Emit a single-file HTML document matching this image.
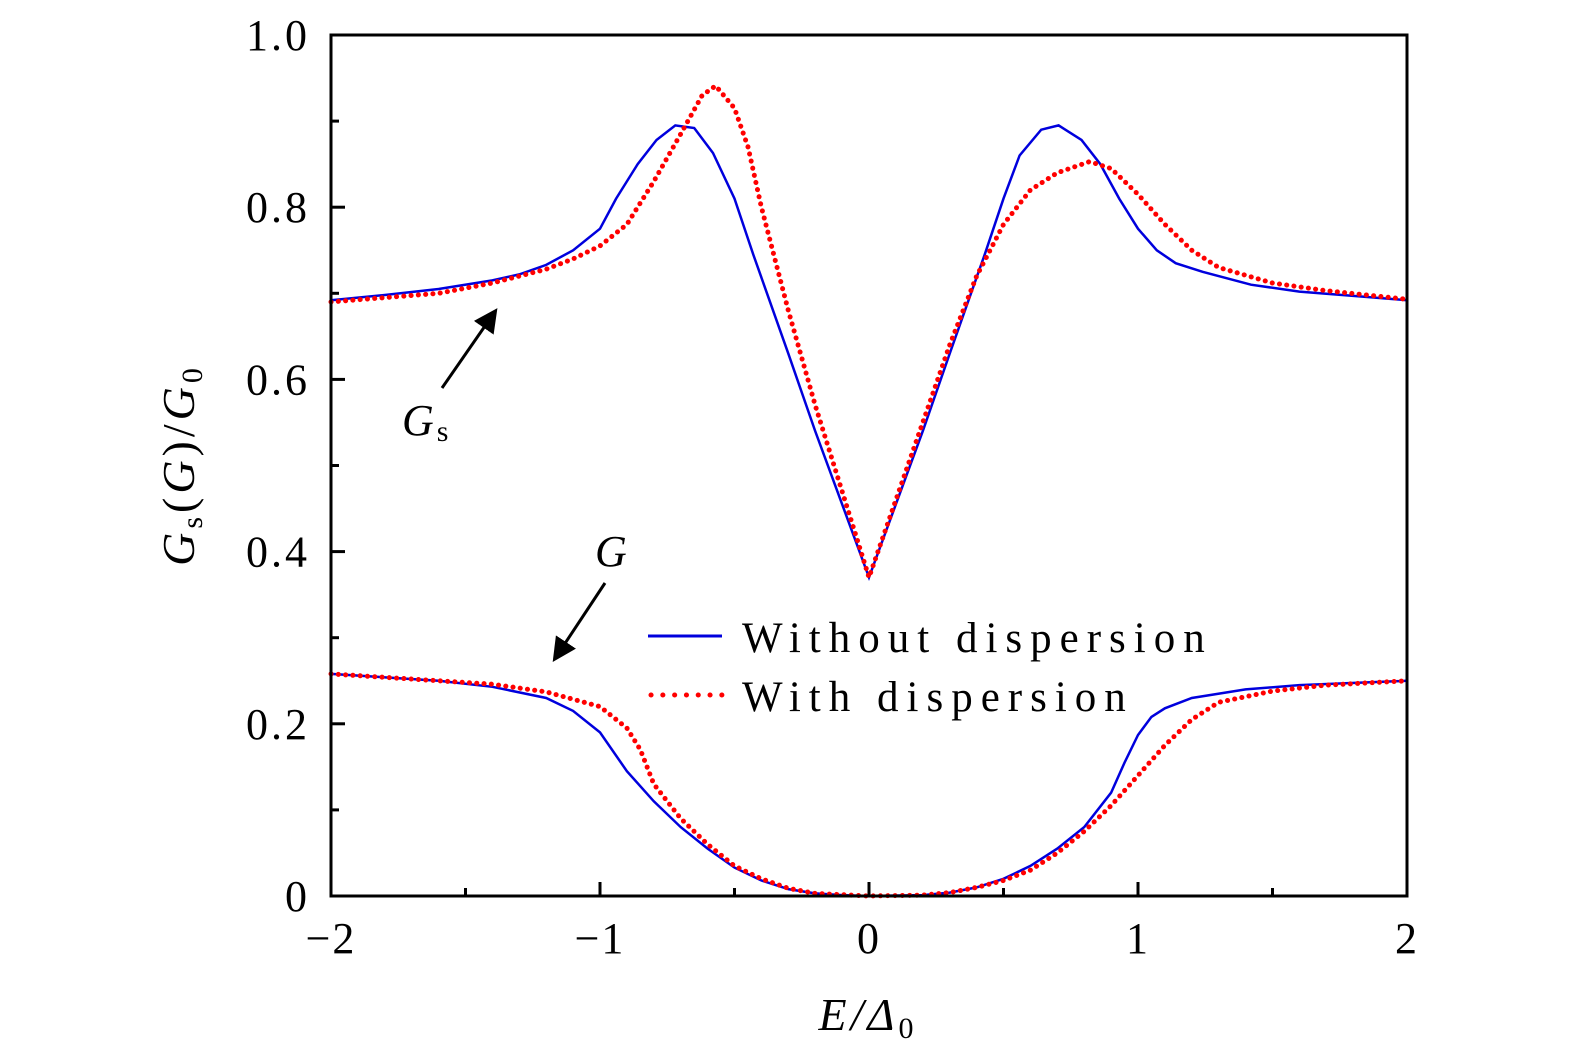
<!DOCTYPE html>
<html><head><meta charset="utf-8"><style>
html,body{margin:0;background:#fff;overflow:hidden;}
svg{display:block;font-family:"Liberation Serif",serif;}
</style></head><body>
<svg id="chart" width="1575" height="1063">
<g id="plot"></g>
</svg>
<script>
const xTicks=[-2,-1,0,1,2];
const xTickLabels=["\u22122","\u22121","0","1","2"];
const xMinor=[-1.5,-0.5,0.5,1.5];
const yTicks=[0,0.2,0.4,0.6,0.8,1.0];
const yTickLabels=["0","0.2","0.4","0.6","0.8","1.0"];
const yMinor=[0.1,0.3,0.5,0.7,0.9];

const gsBlueE=[-2,-1.8,-1.6,-1.4,-1.3,-1.2,-1.1,-1.0,-0.94,-0.86,-0.79,-0.72,-0.65,-0.58,-0.5,-0.43,-0.3,-0.2,-0.1,0,0.1,0.2,0.3,0.43,0.5,0.56,0.64,0.705,0.79,0.86,0.93,1.0,1.07,1.14,1.24,1.42,1.6,1.8,2];
const gsBlue=[0.692,0.698,0.705,0.715,0.722,0.733,0.75,0.775,0.81,0.85,0.878,0.895,0.892,0.863,0.81,0.745,0.63,0.54,0.455,0.37,0.455,0.54,0.63,0.745,0.81,0.86,0.89,0.895,0.878,0.85,0.81,0.775,0.75,0.735,0.725,0.71,0.702,0.697,0.692];
const gsRedE=[-2,-1.6,-1.4,-1.2,-1.1,-1.0,-0.9,-0.8,-0.7,-0.62,-0.57,-0.5,-0.45,-0.4,-0.3,-0.2,-0.1,0,0.1,0.2,0.3,0.4,0.5,0.6,0.7,0.82,0.9,1.0,1.1,1.2,1.3,1.5,1.7,2];
const gsRed=[0.69,0.7,0.712,0.728,0.74,0.755,0.78,0.83,0.885,0.93,0.941,0.915,0.87,0.8,0.68,0.57,0.47,0.37,0.46,0.55,0.64,0.72,0.78,0.82,0.84,0.853,0.845,0.815,0.78,0.75,0.73,0.712,0.703,0.693];
const gBlueE=[-2,-1.6,-1.4,-1.2,-1.1,-1.0,-0.9,-0.8,-0.7,-0.6,-0.5,-0.4,-0.3,-0.2,-0.1,0,0.2,0.3,0.4,0.5,0.6,0.7,0.8,0.9,0.95,1.0,1.05,1.1,1.2,1.4,1.6,2];
const gBlue=[0.258,0.25,0.243,0.23,0.215,0.19,0.145,0.11,0.08,0.055,0.033,0.018,0.008,0.003,0.001,0,0.001,0.004,0.01,0.02,0.035,0.055,0.08,0.12,0.155,0.187,0.208,0.218,0.23,0.24,0.245,0.25];
const gRedE=[-2,-1.4,-1.2,-1.0,-0.9,-0.85,-0.8,-0.7,-0.6,-0.5,-0.4,-0.3,-0.2,0,0.2,0.3,0.4,0.5,0.6,0.7,0.8,0.9,1.0,1.1,1.2,1.3,1.5,1.7,2];
const gRed=[0.258,0.246,0.237,0.22,0.195,0.17,0.13,0.09,0.06,0.035,0.02,0.009,0.003,0,0.001,0.004,0.01,0.018,0.03,0.05,0.075,0.105,0.14,0.175,0.205,0.225,0.238,0.245,0.25];

const X0=331,X1=1407,Y0=896,Y1=35;
const sx=v=>X0+(v+2)/4*(X1-X0);
const sy=v=>Y0-v*(Y0-Y1);
const NS="http://www.w3.org/2000/svg";
const g=document.getElementById('plot');
function mk(t,a,p){const e=document.createElementNS(NS,t);for(const k in a)e.setAttribute(k,a[k]);(p||g).appendChild(e);return e;}
function line(Es,Vs,name,red){
  const d=Es.map((e,i)=>(i?'L':'M')+sx(e).toFixed(1)+','+sy(Vs[i]).toFixed(1)).join('');
  const p=mk('path',red?{d,fill:'none',stroke:'#ff0000','stroke-width':5,'stroke-linecap':'round','stroke-dasharray':'0.1 7.2'}:{d,fill:'none',stroke:'#0000dd','stroke-width':2.5});
  
  
}
line(gsBlueE,gsBlue,'gs-without-dispersion-line',false);
line(gBlueE,gBlue,'g-without-dispersion-line',false);
line(gsRedE,gsRed,'gs-with-dispersion-line',true);
line(gRedE,gRed,'g-with-dispersion-line',true);
const fr=mk('rect',{x:X0,y:Y1,width:X1-X0,height:Y0-Y1,fill:'none',stroke:'#000','stroke-width':3});


xTicks.forEach((v,i)=>{
  mk('line',{x1:sx(v),x2:sx(v),y1:Y0,y2:Y0-14,stroke:'#000','stroke-width':3});
  const t=mk('text',{x:sx(v),y:953,'font-size':44,'text-anchor':'middle','letter-spacing':2});t.textContent=xTickLabels[i];
  
  
});
xMinor.forEach(v=>mk('line',{x1:sx(v),x2:sx(v),y1:Y0,y2:Y0-8,stroke:'#000','stroke-width':3}));
yTicks.forEach((v,i)=>{
  mk('line',{x1:X0,x2:X0+14,y1:sy(v),y2:sy(v),stroke:'#000','stroke-width':3});
  const t=mk('text',{x:310,y:sy(v)+15,'font-size':44,'text-anchor':'end','letter-spacing':3});t.textContent=yTickLabels[i];
  
  
});
yMinor.forEach(v=>mk('line',{x1:X0,x2:X0+8,y1:sy(v),y2:sy(v),stroke:'#000','stroke-width':3}));
</script>
<svg style="position:absolute;left:0;top:0" width="1575" height="1063">
<defs><marker id="ah" markerWidth="8" markerHeight="8" refX="6" refY="4" orient="auto" markerUnits="strokeWidth"><path d="M0,0 L8,4 L0,8 z" fill="#000"/></marker></defs>
<line x1="442" y1="388" x2="494" y2="313" stroke="#000" stroke-width="3" marker-end="url(#ah)"/>
<text x="402" y="435" font-size="44" font-style="italic" font-family="Liberation Serif,serif">G<tspan font-size="30" font-style="normal" dy="6" dx="3">s</tspan></text>
<line x1="605" y1="583" x2="556" y2="657" stroke="#000" stroke-width="3" marker-end="url(#ah)"/>
<text x="595" y="566" font-size="44" font-style="italic" font-family="Liberation Serif,serif">G</text>
<g>
<line x1="648" y1="636" x2="722" y2="636" stroke="#0000dd" stroke-width="3"/>
<text x="742" y="652" font-size="43" letter-spacing="8" font-family="Liberation Serif,serif">Without dispersion</text>
<line x1="651" y1="695" x2="722" y2="695" stroke="#ff0000" stroke-width="5" stroke-linecap="round" stroke-dasharray="0.1 11.7"/>
<text x="742" y="711" font-size="43" letter-spacing="8" font-family="Liberation Serif,serif">With dispersion</text>
</g>
<text x="868" y="1030" font-size="46" text-anchor="middle" font-style="italic" letter-spacing="4" font-family="Liberation Serif,serif">E/Δ<tspan font-size="30" font-style="normal" dy="8">0</tspan></text>
<text transform="translate(194,465) rotate(-90)" font-size="46" text-anchor="middle" font-style="italic" letter-spacing="4" font-family="Liberation Serif,serif">G<tspan font-size="30" font-style="normal" dy="8">s</tspan><tspan dy="-8" font-style="normal">(</tspan>G<tspan font-style="normal">)/</tspan>G<tspan font-size="30" font-style="normal" dy="8">0</tspan></text>
</svg>
</body></html>
